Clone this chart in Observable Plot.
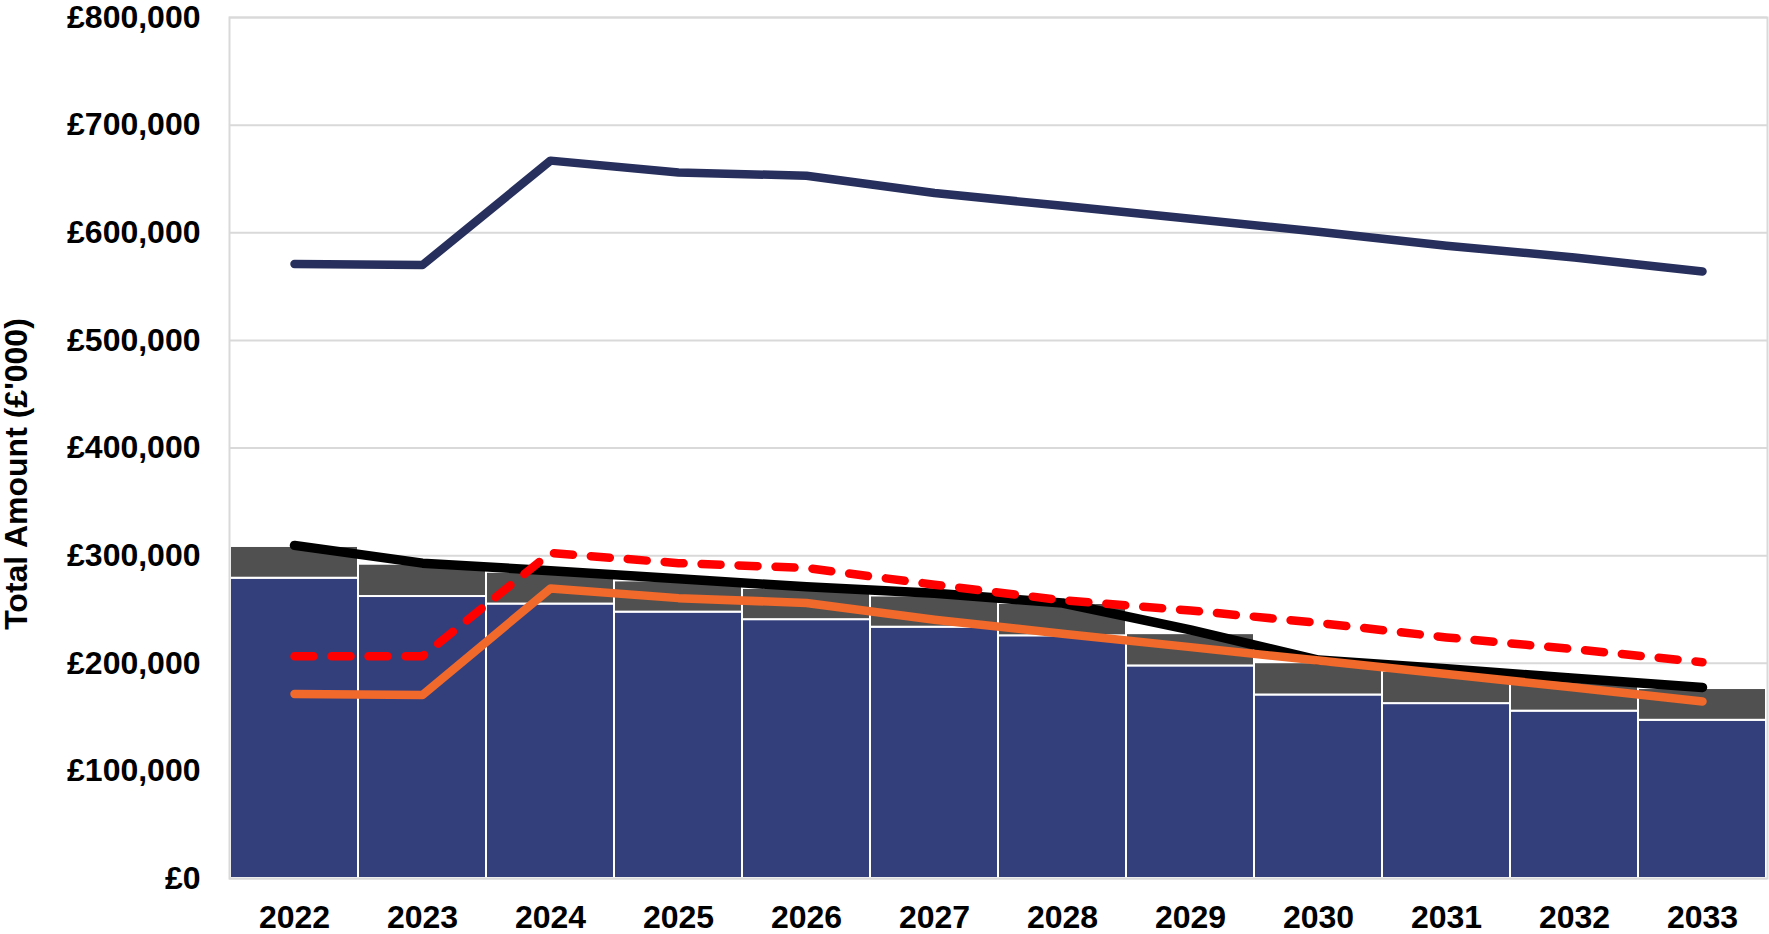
<!DOCTYPE html>
<html>
<head>
<meta charset="utf-8">
<script src="https://cdn.jsdelivr.net/npm/d3@7"></script>
<script src="https://cdn.jsdelivr.net/npm/@observablehq/plot@0.6"></script>
<style>
  html, body { margin: 0; padding: 0; background: #fff; }
</style>
</head>
<body>
<div id="chart"></div>
<script>
// ---- data (values in £'000 units as displayed on axis) ----
const years = ["2022","2023","2024","2025","2026","2027","2028","2029","2030","2031","2032","2033"];
const barBase  = [279000, 262000, 255000, 247500, 240500, 233500, 225500, 197500, 170500, 162500, 155500, 147000];
const barOther = [29500, 30000, 29500, 29000, 29000, 29000, 30000, 30000, 30000, 30000, 29500, 29500];
const navyLine   = [571000, 570000, 667000, 656000, 653000, 637000, 625000, 613000, 601000, 588000, 577000, 564000];
const blackLine  = [309500, 293000, 286000, 278500, 271000, 265000, 256000, 231000, 203000, 195000, 186000, 177500];
const redDashed  = [206500, 206500, 302500, 293000, 288500, 273000, 258500, 249000, 237500, 224000, 213000, 201000];
const orangeLine = [171500, 170500, 269500, 260500, 256000, 240500, 227500, 215000, 202500, 190000, 177500, 164500];
const yTicks = [0, 100000, 200000, 300000, 400000, 500000, 600000, 700000, 800000];
const yLabel = "Total Amount (£'000)";

const barRows = years.flatMap((y, i) => [
  {year: y, series: "base", value: barBase[i]},
  {year: y, series: "other", value: barOther[i]}
]);
const fmt = d3.format(",");

const chart = Plot.plot({
  width: 1769,
  height: 934,
  marginLeft: 229,
  marginRight: 2,
  marginTop: 17,
  marginBottom: 56,
  style: {
    fontFamily: "'Liberation Sans', Arial, Helvetica, sans-serif",
    fontSize: "32px",
    fontWeight: "bold",
    color: "#000",
    background: "#fff",
    overflow: "visible"
  },
  x: {type: "band", domain: years, padding: 0, label: null},
  y: {domain: [0, 800000], label: null},
  color: {domain: ["base", "other"], range: ["#333f7b", "#505050"]},
  marks: [
    Plot.gridY(yTicks, {stroke: "#d9d9d9", strokeOpacity: 1, strokeWidth: 2}),
    Plot.barY(barRows, Plot.stackY({x: "year", y: "value", fill: "series", stroke: "#ffffff", strokeWidth: 2})),
    Plot.frame({stroke: "#d9d9d9", strokeWidth: 2}),
    Plot.lineY(navyLine, {x: (d, i) => years[i], y: d => d, stroke: "#272f5c", strokeWidth: 8.5, strokeLinecap: "round", strokeLinejoin: "round"}),
    Plot.lineY(blackLine, {x: (d, i) => years[i], y: d => d, stroke: "#000000", strokeWidth: 9.5, strokeLinecap: "round", strokeLinejoin: "round"}),
    Plot.lineY(redDashed, {x: (d, i) => years[i], y: d => d, stroke: "#ff0000", strokeWidth: 8.5, strokeLinecap: "round", strokeLinejoin: "round", strokeDasharray: "19,18"}),
    Plot.lineY(orangeLine, {x: (d, i) => years[i], y: d => d, stroke: "#f1692b", strokeWidth: 8.5, strokeLinecap: "round", strokeLinejoin: "round"}),
    Plot.axisX({tickSize: 0, tickPadding: 27, fontSize: 32, fontWeight: "bold", label: null}),
    Plot.axisY(yTicks, {tickSize: 0, tickPadding: 29, fontSize: 32, fontWeight: "bold", label: null, tickFormat: d => "£" + fmt(d)}),
    Plot.text([yLabel], {text: d => d, frameAnchor: "left", textAnchor: "middle", lineAnchor: "middle", rotate: -90, dx: -213, dy: 26, fontSize: 32, fontWeight: "bold", fill: "#000"})
  ]
});
document.getElementById("chart").appendChild(chart);
</script>
</body>
</html>
